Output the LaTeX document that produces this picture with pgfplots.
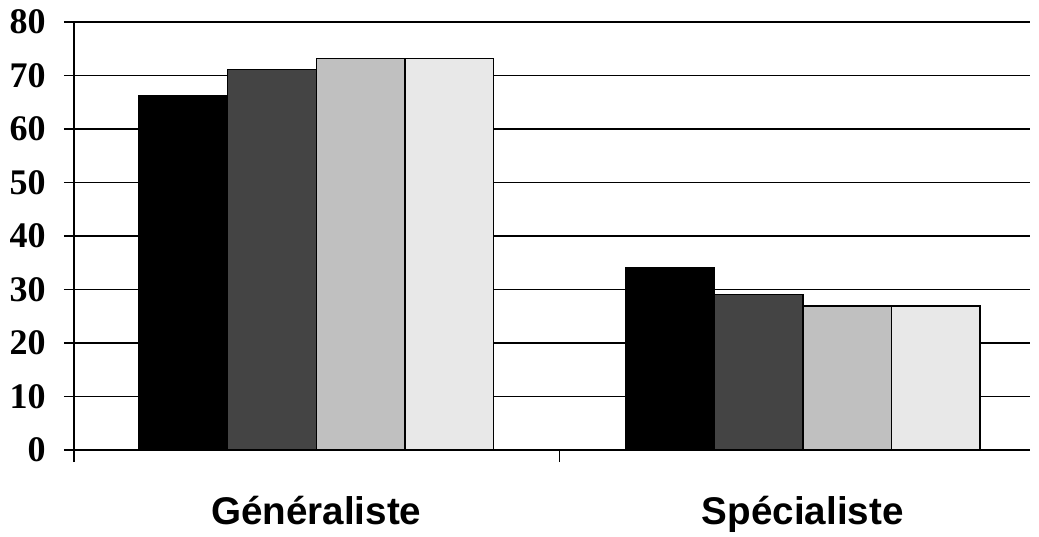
\documentclass[border=0pt]{standalone}
\usepackage{fontspec}
\setmainfont{Liberation Serif}
\setsansfont{Liberation Sans}
\usepackage{pgfplots}
\pgfplotsset{compat=1.18}

\definecolor{serA}{HTML}{000000}
\definecolor{serB}{HTML}{444444}
\definecolor{serC}{HTML}{C0C0C0}
\definecolor{serD}{HTML}{E8E8E8}

\begin{document}
\begin{tikzpicture}
\useasboundingbox (-37pt,-43pt) rectangle (482.5pt,225pt);
\begin{axis}[
  at={(0pt,0pt)}, anchor=south west,
  width=478pt, height=214pt, scale only axis,
  ybar=0pt, bar width=0.182,
  xmin=-0.498, xmax=1.467,
  ymin=0, ymax=80,
  ytick={0,10,...,80},
  xtick={0,1},
  xticklabels={Généraliste,Spécialiste},
  minor xtick={-0.498,0.5},
  axis x line=bottom, axis y line=left,
  axis line style={-, line width=0.75pt, black},
  tick align=outside,
  major tick length=5pt, minor tick length=6pt,
  major x tick style={draw=none},
  every tick/.style={black, line width=0.75pt},
  ymajorgrids, grid style={black, line width=0.75pt},
  /pgf/number format/assume math mode=true,
  yticklabel style={font=\bfseries\fontsize{18}{18}\selectfont, inner sep=0pt, xshift=-9pt},
  xticklabel style={font=\sffamily\bfseries\fontsize{19.3}{19.3}\selectfont, yshift=-14.5pt},
  every axis plot/.append style={draw=black, line width=0.75pt},
]
\addplot[fill=serA] coordinates {(0,66.3) (1,34.0)};
\addplot[fill=serB] coordinates {(0,71.1) (1,29.1)};
\addplot[fill=serC] coordinates {(0,73.2) (1,26.9)};
\addplot[fill=serD] coordinates {(0,73.2) (1,26.9)};
\end{axis}
\end{tikzpicture}
\end{document}
